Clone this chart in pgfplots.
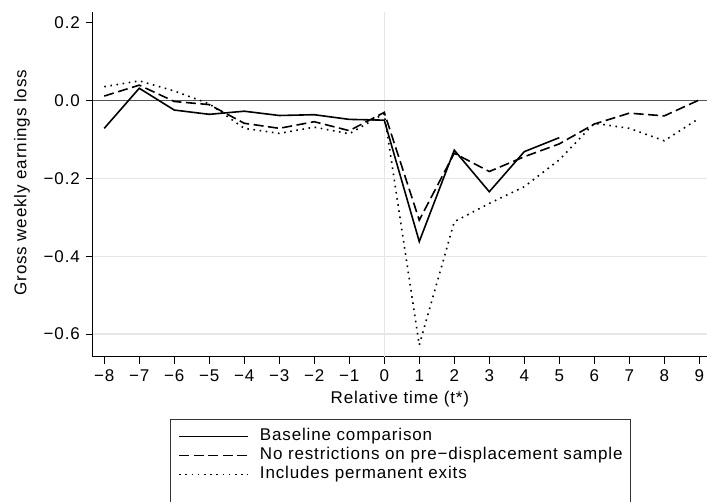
\documentclass[border=0pt]{standalone}
\usepackage{fontspec}
\setmainfont{Liberation Sans}[LetterSpace=5]
\usepackage{pgfplots}
\pgfplotsset{compat=1.18}
\definecolor{gridgray}{HTML}{E6E6E6}
\definecolor{zerogray}{HTML}{555555}

\begin{document}
\fontsize{17bp}{20bp}\selectfont
\begin{tikzpicture}
\begin{axis}[
  scale only axis,
  width=614.3bp, height=344.7bp,
  xmin=-8.33, xmax=9.22,
  ymin=-0.658, ymax=0.228,
  axis x line*=bottom, axis y line*=left,
  axis line style={line width=1.2bp, black},
  xtick={-8,-7,-6,-5,-4,-3,-2,-1,0,1,2,3,4,5,6,7,8,9},
  xticklabels={−8,−7,−6,−5,−4,−3,−2,−1,0,1,2,3,4,5,6,7,8,9},
  ytick={-0.6,-0.4,-0.2,0,0.2},
  yticklabels={−0.6,−0.4,−0.2,0.0,0.2},
  tick align=outside,
  major tick length=7bp,
  tick style={line width=1.1bp, black},
  minor tick num=0,
  extra x ticks={0},
  extra x tick labels={},
  extra y ticks={-0.6,-0.4,-0.2},
  extra y tick labels={},
  extra tick style={major tick length=0pt, grid=major,
    major grid style={line width=1.4bp, gridgray}},
  ticklabel style={font=\fontsize{17bp}{20bp}\selectfont},
  label style={font=\fontsize{17bp}{20bp}\selectfont},
  xlabel={Relative time (t*)},
  ylabel={Gross weekly earnings loss},
  xlabel style={at={(axis description cs:0.5,-0.122)}, anchor=center},
  ylabel style={at={(axis description cs:-0.1151,0.505)}, anchor=center},
  legend style={
    at={(axis description cs:0.501,-0.1807)}, anchor=north,
    draw=black!80, line width=1bp,
    font=\fontsize{17bp}{20bp}\selectfont,
    inner xsep=8bp, inner ysep=9.5bp,
    row sep=3bp, column sep=11bp,
    nodes={inner xsep=0pt, inner ysep=0pt, text height=12bp, text depth=4bp},
    cells={anchor=west},
  },
  legend image code/.code={\draw[#1] (0bp,0.5bp) -- (69bp,0.5bp);},
]

% zero reference line
\addplot[line width=1.5bp, zerogray, forget plot] coordinates {(-8.33,0) (9.22,0)};

% baseline comparison
\addplot[black, line width=1.6bp, solid, line join=miter] coordinates {
  (-8,-0.071) (-7,0.032) (-6,-0.024) (-5,-0.035) (-4,-0.027) (-3,-0.038)
  (-2,-0.036) (-1,-0.048) (0,-0.050) (1,-0.362) (2,-0.127) (3,-0.234)
  (4,-0.131) (5,-0.095)
};
\addlegendentry{Baseline comparison}

% no restrictions on the pre-displacement sample
\addplot[black, line width=1.6bp, dash pattern=on 10bp off 4.5bp, line join=miter] coordinates {
  (-8,0.012) (-7,0.040) (-6,-0.002) (-5,-0.010) (-4,-0.058) (-3,-0.071)
  (-2,-0.054) (-1,-0.077) (0,-0.030) (1,-0.307) (2,-0.135) (3,-0.182)
  (4,-0.144) (5,-0.111) (6,-0.060) (7,-0.032) (8,-0.039) (9,0.002)
};
\addlegendentry{No restrictions on pre−displacement sample}

% including permanent exits
\addplot[black, line width=1.6bp, dash pattern=on 1.6bp off 4.6bp, line join=miter] coordinates {
  (-8,0.036) (-7,0.051) (-6,0.025) (-5,-0.008) (-4,-0.071) (-3,-0.084)
  (-2,-0.068) (-1,-0.085) (0,-0.033) (1,-0.628) (2,-0.311) (3,-0.264)
  (4,-0.221) (5,-0.152) (6,-0.058) (7,-0.071) (8,-0.103) (9,-0.045)
};
\addlegendentry{Includes permanent exits}

\addlegendimage{empty legend}
\addlegendentry{}
\end{axis}
\pgfresetboundingbox
\path[use as bounding box] (-92.7bp,-145.3bp) rectangle (614.3bp,356.7bp);
\end{tikzpicture}
\end{document}
